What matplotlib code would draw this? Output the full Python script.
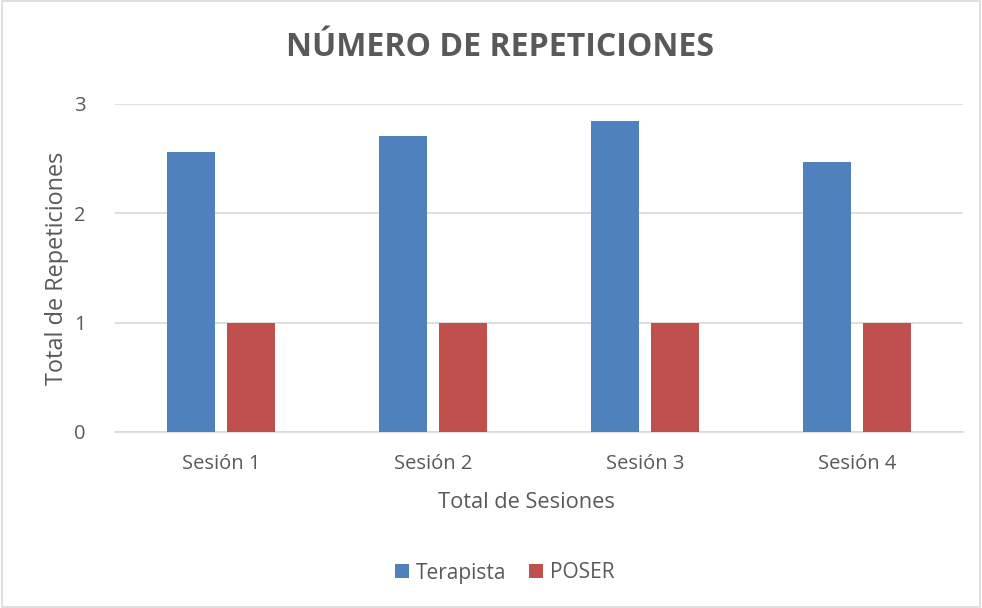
import matplotlib
matplotlib.use('Agg')
import matplotlib.pyplot as plt
from matplotlib.patches import Rectangle
import numpy as np

# datos
sesiones = ["Sesión 1", "Sesión 2", "Sesión 3", "Sesión 4"]
terapista = [2.56, 2.71, 2.845, 2.47]
poser = [1, 1, 1, 1]

plt.rcParams['font.family'] = ['Open Sans', 'DejaVu Sans']
gris = '#595959'

fig = plt.figure(figsize=(9.82, 6.08), dpi=100)
ax = fig.add_axes([0.117, 0.2895, 0.864, 0.5395])

x = np.arange(len(sesiones))
ancho = 0.226
desp = 0.142
ax.bar(x - desp, terapista, ancho, color='#4F81BD', label='Terapista', zorder=3)
ax.bar(x + desp, poser, ancho, color='#C0504D', label='POSER', zorder=3)

ax.set_xlim(-0.5, len(sesiones) - 0.5)
ax.set_ylim(0, 3)
ax.set_yticks([0, 1, 2, 3])
ax.set_xticks(x)
ax.set_xticklabels(sesiones)
ax.grid(axis='y', color='#D9D9D9', linewidth=1.2, zorder=0)
for s in ['top', 'right', 'left']:
    ax.spines[s].set_visible(False)
ax.spines['bottom'].set_color('#D9D9D9')
ax.spines['bottom'].set_linewidth(1.2)
ax.tick_params(axis='both', length=0, colors=gris, labelsize=14.5)
ax.tick_params(axis='y', pad=21)
ax.tick_params(axis='x', pad=16)

# etiquetas de ejes
fig.text(526 / 982, 1 - 502 / 608, "Total de Sesiones", ha='center', va='center',
         fontsize=15.7, color=gris)
fig.text(57 / 982, 1 - 268 / 608, "Total de Repeticiones", ha='center', va='center',
         rotation=90, fontsize=16.9, color=gris)

fig.text(0.509, 1 - 48 / 608, "NÚMERO DE REPETICIONES", ha='center', va='center',
         fontsize=23, fontweight='bold', color=gris)

leg = fig.legend(loc='center', bbox_to_anchor=(505 / 982, 1 - 573 / 608), ncol=2, frameon=False,
                 fontsize=15, handlelength=0.65, handleheight=0.65, columnspacing=1.1,
                 handletextpad=0.35)
for t in leg.get_texts():
    t.set_color(gris)

fig.patches.append(Rectangle((0.002, 0.002), 0.996, 0.996, transform=fig.transFigure,
                             fill=False, edgecolor='#D9D9D9', linewidth=1.2))

fig.savefig('out.png', dpi=100)
